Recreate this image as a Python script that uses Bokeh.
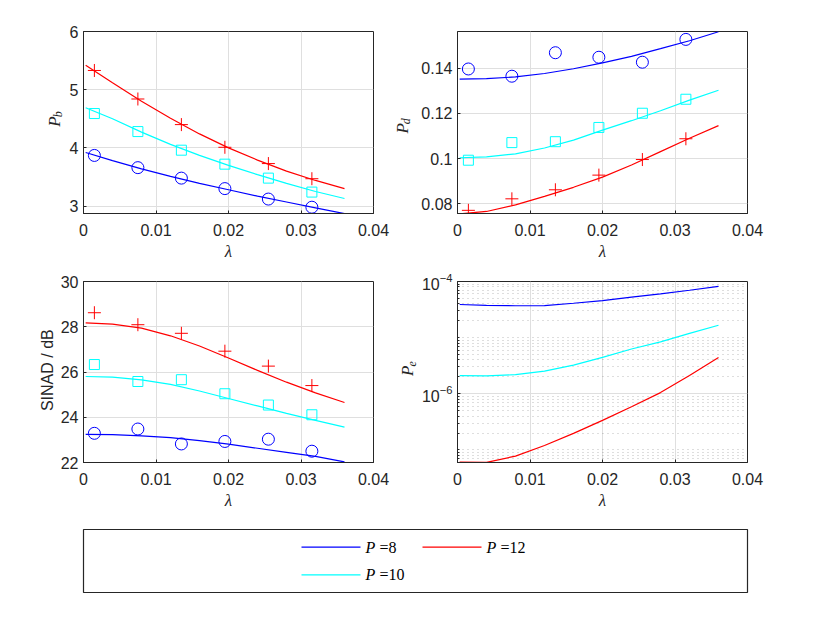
import math
from bokeh.plotting import figure
from bokeh.layouts import column, row
from bokeh.models import Range1d, FixedTicker
from bokeh.core.properties import value
from bokeh.embed import file_html
from bokeh.resources import INLINE

# ---------------- data ----------------
series_names = ["P =8", "P =10", "P =12"]
series_colors = ["#0000FF", "#00FFFF", "#FF0000"]
series_markers = ["circle", "square", "cross"]

x_curve = [0.0003, 0.004, 0.008, 0.012, 0.016, 0.020, 0.024, 0.028, 0.032, 0.036]
x_mark = [0.0015, 0.0075, 0.0135, 0.0195, 0.0255, 0.0315]

# P_b
pb_curve_8 = [3.92, 3.78, 3.64, 3.51, 3.39, 3.28, 3.17, 3.07, 2.97, 2.87]
pb_curve_10 = [4.69, 4.50, 4.27, 4.06, 3.87, 3.70, 3.54, 3.39, 3.25, 3.13]
pb_curve_12 = [5.42, 5.12, 4.80, 4.51, 4.24, 4.00, 3.79, 3.60, 3.44, 3.30]
pb_mark_8 = [3.87, 3.66, 3.48, 3.30, 3.12, 2.98]
pb_mark_10 = [4.59, 4.28, 3.96, 3.72, 3.48, 3.24]
pb_mark_12 = [5.33, 4.84, 4.40, 4.01, 3.73, 3.47]

# P_d
pd_curve_8 = [0.1352, 0.1354, 0.1362, 0.1377, 0.1398, 0.1424, 0.1453, 0.1487, 0.1522, 0.1562]
pd_curve_10 = [0.1004, 0.1008, 0.1021, 0.1047, 0.1082, 0.1126, 0.1168, 0.1212, 0.1259, 0.1303]
pd_curve_12 = [0.0755, 0.0766, 0.0795, 0.0833, 0.0873, 0.0918, 0.0972, 0.1031, 0.1090, 0.1146]
pd_mark_8 = [0.1397, 0.1365, 0.1469, 0.1449, 0.1427, 0.1528]
pd_mark_10 = [0.0993, 0.1071, 0.1075, 0.1138, 0.1201, 0.1263]
pd_mark_12 = [0.0771, 0.0822, 0.0862, 0.0927, 0.0996, 0.1088]

# SINAD / dB
sinad_curve_8 = [23.24, 23.23, 23.18, 23.10, 22.97, 22.81, 22.63, 22.45, 22.27, 22.03]
sinad_curve_10 = [25.80, 25.77, 25.65, 25.45, 25.16, 24.83, 24.50, 24.17, 23.86, 23.56]
sinad_curve_12 = [28.17, 28.12, 27.94, 27.60, 27.15, 26.62, 26.07, 25.55, 25.08, 24.65]
sinad_mark_8 = [23.29, 23.48, 22.82, 22.93, 23.03, 22.50]
sinad_mark_10 = [26.33, 25.58, 25.66, 25.04, 24.54, 24.11]
sinad_mark_12 = [28.62, 28.09, 27.71, 26.92, 26.26, 25.40]

# P_e
pe_curve_8 = [3.89e-5, 3.76e-5, 3.70e-5, 3.73e-5, 4.10e-5, 4.57e-5, 5.25e-5, 6.03e-5, 6.98e-5, 8.18e-5]
pe_curve_10 = [2.11e-6, 2.08e-6, 2.19e-6, 2.54e-6, 3.23e-6, 4.44e-6, 6.28e-6, 8.41e-6, 1.19e-5, 1.66e-5]
pe_curve_12 = [6.05e-8, 6.00e-8, 7.76e-8, 1.20e-7, 1.97e-7, 3.36e-7, 5.87e-7, 1.05e-6, 2.11e-6, 4.44e-6]

x_ticks = [0, 0.01, 0.02, 0.03, 0.04]
x_tick_labels = ["0", "0.01", "0.02", "0.03", "0.04"]
pb_ticks = [3, 4, 5, 6]
pb_tick_labels = ["3", "4", "5", "6"]
pd_ticks = [0.08, 0.1, 0.12, 0.14]
pd_tick_labels = ["0.08", "0.1", "0.12", "0.14"]
sinad_ticks = [22, 24, 26, 28, 30]
sinad_tick_labels = ["22", "24", "26", "28", "30"]
pe_ticks = [1e-6, 1e-4]

# ---------------- style ----------------
AX = "#262626"
GRID = "#dfdfdf"
SANS = "Liberation Sans"
SERIF = "Liberation Serif"
TICK_FS = "16px"


def make_fig(w, h, left, right, top, bottom, xr, yr, log=False):
    p = figure(width=w, height=h, x_range=xr, y_range=yr,
               y_axis_type="log" if log else "linear",
               output_backend="svg", toolbar_location=None,
               min_border_left=left, min_border_right=right,
               min_border_top=top, min_border_bottom=bottom)
    p.outline_line_color = AX
    p.outline_line_width = 1
    p.background_fill_color = "white"
    p.border_fill_color = "white"
    return p


def style_axis(ax):
    ax.axis_line_color = AX
    ax.major_tick_line_color = AX
    ax.minor_tick_line_color = AX
    ax.major_tick_in = 3
    ax.major_tick_out = 0
    ax.minor_tick_in = 2
    ax.minor_tick_out = 0
    ax.major_label_text_color = AX
    ax.major_label_text_font = SANS
    ax.major_label_text_font_size = TICK_FS


def setup(p, xticks, xlabels, yticks, ylabels=None, yminor=None):
    xt = FixedTicker(ticks=xticks)
    yt = FixedTicker(ticks=yticks, minor_ticks=yminor or [])
    xa = p.below[0]
    ya = p.left[0]
    xa.ticker = xt
    ya.ticker = yt
    xa.major_label_overrides = dict(zip(xticks, xlabels))
    if ylabels is not None:
        ya.major_label_overrides = dict(zip(yticks, ylabels))
    style_axis(xa)
    style_axis(ya)
    xa.major_label_standoff = 10
    ya.major_label_standoff = 5
    xa.axis_label = "λ"
    xa.axis_label_text_font = SERIF
    xa.axis_label_text_font_style = "italic"
    xa.axis_label_text_font_size = "17px"
    xa.axis_label_text_color = AX
    xa.axis_label_standoff = 3
    p.xgrid.ticker = xt
    p.ygrid.ticker = yt
    p.xgrid.grid_line_color = GRID
    p.ygrid.grid_line_color = GRID
    p.xgrid.grid_line_width = 1
    p.ygrid.grid_line_width = 1


def draw(p, curves, marks=None):
    for i, c in enumerate(curves):
        p.line(x_curve, c, line_color=series_colors[i], line_width=1.2)
    if marks:
        for i, m in enumerate(marks):
            size = {"circle": 12, "square": 10, "cross": 13}[series_markers[i]]
            p.scatter(x_mark, m, marker=series_markers[i], size=size,
                      fill_color=None, line_color=series_colors[i], line_width=1)


def label_strip(w, h):
    """A narrow figure whose whole area is its frame (pixel coordinates, y up),
    used to hold a rotated y-axis title."""
    s = figure(width=w, height=h, x_range=Range1d(0, w), y_range=Range1d(0, h),
               x_axis_location=None, y_axis_location=None,
               output_backend="svg", toolbar_location=None,
               min_border_left=0, min_border_right=0, min_border_top=0, min_border_bottom=0)
    s.grid.visible = False
    s.outline_line_color = None
    s.background_fill_color = "white"
    s.border_fill_color = "white"
    return s


def sub_title(s, h, main, sub, x_mid, y_from_top):
    y = h - y_from_top
    s.text(x=[x_mid], y=[y], text=[main], angle=math.pi / 2,
           text_font=value(SERIF), text_font_style="italic", text_font_size="17px",
           text_color=AX, text_align="center", text_baseline="middle")
    s.text(x=[x_mid + 4], y=[y + 6], text=[sub], angle=math.pi / 2,
           text_font=value(SERIF), text_font_style="italic", text_font_size="12px",
           text_color=AX, text_align="left", text_baseline="middle")


ROW1_H, ROW2_H = 263, 249

# ---- P_b ----
pb_range = (2.872, 6.0)
lab1 = label_strip(64, ROW1_H)
sub_title(lab1, ROW1_H, "P", "b", 53.5, 130.0)
p1 = make_fig(329, ROW1_H, 19, 20, 31, 45, Range1d(0, 0.04), Range1d(*pb_range))
setup(p1, x_ticks, x_tick_labels, pb_ticks, pb_tick_labels)
draw(p1, [pb_curve_8, pb_curve_10, pb_curve_12], [pb_mark_8, pb_mark_10, pb_mark_12])

# ---- P_d ----
pd_range = (0.0757, 0.1563)
lab2 = label_strip(20, ROW1_H)
sub_title(lab2, ROW1_H, "P", "d", 8.5, 140.0)
p2 = make_fig(409, ROW1_H, 44, 75, 31, 45, Range1d(0, 0.04), Range1d(*pd_range))
setup(p2, x_ticks, x_tick_labels, pd_ticks, pd_tick_labels)
draw(p2, [pd_curve_8, pd_curve_10, pd_curve_12], [pd_mark_8, pd_mark_10, pd_mark_12])

# ---- SINAD ----
sinad_range = (22, 30)
lab3 = label_strip(56, ROW2_H)
lab3.text(x=[46.5], y=[ROW2_H - 122], text=["SINAD / dB"], angle=math.pi / 2,
          text_font=value(SANS), text_font_size="16px", text_color=AX,
          text_align="center", text_baseline="middle")
p3 = make_fig(337, ROW2_H, 27, 20, 18, 45, Range1d(0, 0.04), Range1d(*sinad_range))
setup(p3, x_ticks, x_tick_labels, sinad_ticks, sinad_tick_labels)
draw(p3, [sinad_curve_8, sinad_curve_10, sinad_curve_12],
     [sinad_mark_8, sinad_mark_10, sinad_mark_12])

# ---- P_e ----
pe_range = (5.97e-8, 1e-4)
pe_minor = [k * 10.0 ** e for e in range(-8, -4) for k in range(1, 10)]
lab4 = label_strip(24, ROW2_H)
sub_title(lab4, ROW2_H, "P", "e", 14.0, 123.0)
p4 = make_fig(405, ROW2_H, 40, 75, 18, 45, Range1d(0, 0.04), Range1d(*pe_range), log=True)
setup(p4, x_ticks, x_tick_labels, pe_ticks, None, pe_minor)
p4.ygrid.minor_grid_line_color = AX
p4.ygrid.minor_grid_line_alpha = 0.3
p4.ygrid.minor_grid_line_dash = "1 4"
draw(p4, [pe_curve_8, pe_curve_10, pe_curve_12])

# ---- legend ----
leg_w, leg_h = 664, 63
leg = figure(width=822, height=85, x_range=Range1d(0, leg_w), y_range=Range1d(leg_h, 0),
             output_backend="svg", toolbar_location=None,
             min_border_left=83, min_border_right=75, min_border_top=17, min_border_bottom=5)
leg.axis.visible = False
leg.grid.visible = False
leg.outline_line_color = AX
leg.outline_line_width = 1.2
leg_line_x0 = [218, 218, 339]
leg_line_len = 59
leg_row_y = [17.7, 45.3, 17.7]
leg_text_gap = 5
for i, name in enumerate(series_names):
    x0 = leg_line_x0[i]
    y0 = leg_row_y[i]
    leg.segment(x0=[x0], y0=[y0], x1=[x0 + leg_line_len], y1=[y0],
                line_color=series_colors[i], line_width=1.2)
    tx = x0 + leg_line_len + leg_text_gap
    leg.text(x=[tx], y=[y0], text=["P"], text_font=value(SERIF), text_font_style="italic",
             text_font_size="16px", text_baseline="middle", text_align="left", text_color="black")
    leg.text(x=[tx + 14], y=[y0], text=[name.split(" ")[1]], text_font=value(SERIF),
             text_font_size="16px", text_baseline="middle", text_align="left", text_color="black")

layout = column(row(lab1, p1, lab2, p2), row(lab3, p3, lab4, p4), leg)
open("out.html", "w").write(file_html(layout, INLINE))
